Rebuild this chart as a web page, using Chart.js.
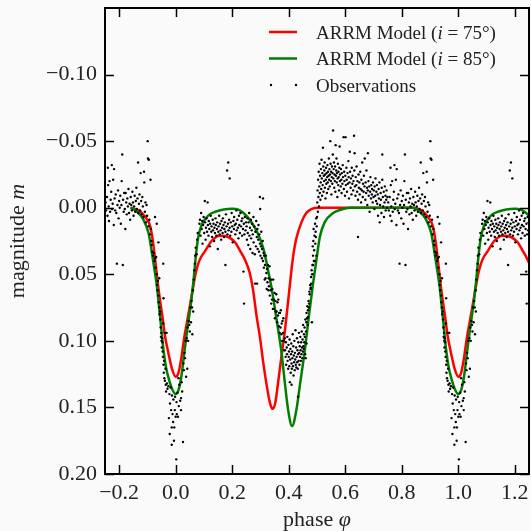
<!DOCTYPE html>
<html>
<head>
<meta charset="utf-8">
<script src="https://cdn.jsdelivr.net/npm/chart.js@4.4.1/dist/chart.umd.min.js"></script>
<style>
  html, body { margin: 0; padding: 0; background: #fafafa; }
  #wrap { width: 531px; height: 531px; }
</style>
</head>
<body>
<div id="wrap"><canvas id="lightCurve" width="531" height="531"></canvas></div>
<script>
// phase axis and magnitude axis (magnitude is drawn reversed)
const xTicks = [-0.2, 0.0, 0.2, 0.4, 0.6, 0.8, 1.0, 1.2];
const yTicks = [-0.10, -0.05, 0.00, 0.05, 0.10, 0.15, 0.20];

// model light curves, one period [0, 1], [phase, magnitude]
const model75 = [
    [0.000, 0.127], [0.010, 0.124], [0.020, 0.113], [0.030, 0.098], [0.040, 0.086],
    [0.050, 0.074], [0.060, 0.062], [0.070, 0.050], [0.080, 0.042], [0.090, 0.037],
    [0.103, 0.033], [0.127, 0.025], [0.156, 0.021], [0.186, 0.022], [0.210, 0.026],
    [0.227, 0.032], [0.245, 0.039], [0.262, 0.049], [0.274, 0.062], [0.286, 0.081],
    [0.298, 0.097], [0.309, 0.115], [0.321, 0.132], [0.333, 0.146], [0.342, 0.151],
    [0.352, 0.147], [0.362, 0.132], [0.374, 0.112], [0.386, 0.093], [0.398, 0.070],
    [0.409, 0.048], [0.418, 0.033], [0.427, 0.023], [0.445, 0.011], [0.462, 0.004],
    [0.480, 0.001], [0.504, 0.000], [0.840, 0.000], [0.869, 0.002], [0.893, 0.007],
    [0.910, 0.014], [0.920, 0.026], [0.929, 0.042], [0.937, 0.057], [0.945, 0.070],
    [0.954, 0.083], [0.962, 0.096], [0.975, 0.110], [0.987, 0.121], [1.000, 0.127]
];
const model85 = [
    [0.000, 0.140], [0.010, 0.137], [0.020, 0.127], [0.030, 0.110], [0.042, 0.090],
    [0.054, 0.072], [0.063, 0.055], [0.072, 0.035], [0.080, 0.022], [0.090, 0.014],
    [0.103, 0.009], [0.120, 0.005], [0.140, 0.003], [0.170, 0.0013], [0.200, 0.0008],
    [0.222, 0.0015], [0.240, 0.004], [0.262, 0.009], [0.280, 0.015], [0.298, 0.023],
    [0.312, 0.032], [0.325, 0.045], [0.339, 0.060], [0.357, 0.084], [0.374, 0.108],
    [0.386, 0.131], [0.398, 0.152], [0.412, 0.164], [0.427, 0.152], [0.441, 0.131],
    [0.457, 0.107], [0.471, 0.082], [0.486, 0.057], [0.498, 0.039], [0.510, 0.022],
    [0.527, 0.011], [0.557, 0.004], [0.592, 0.001], [0.620, 0.000], [0.840, 0.000],
    [0.863, 0.003], [0.886, 0.009], [0.904, 0.019], [0.916, 0.034], [0.924, 0.045],
    [0.933, 0.058], [0.945, 0.082], [0.957, 0.107], [0.966, 0.120], [0.975, 0.128],
    [0.987, 0.136], [1.000, 0.140]
];

// observations, one period [-0.25, 0.75), [phase, magnitude]
const obsBaseline = [
    [-0.248,-0.004],[-0.246,0.002],[-0.243,-0.008],[-0.241,0.006],[-0.240,-0.030],[-0.239,-0.017],[-0.237,-0.001],
    [-0.236,0.010],[-0.234,-0.020],[-0.232,0.003],[-0.230,-0.006],[-0.228,-0.012],[-0.226,-0.032],[-0.225,0.001],
    [-0.223,-0.003],[-0.221,-0.021],[-0.219,0.013],[-0.218,-0.029],[-0.216,-0.007],[-0.214,0.002],[-0.212,-0.010],
    [-0.210,0.004],[-0.208,0.042],[-0.206,-0.002],[-0.204,-0.013],[-0.202,0.008],[-0.200,-0.005],[-0.198,0.000],
    [-0.196,-0.009],[-0.194,0.012],[-0.192,-0.002],[-0.191,-0.020],[-0.189,-0.040],[-0.187,0.043],[-0.186,-0.006],
    [-0.184,0.003],[-0.182,-0.011],[-0.180,0.001],[-0.178,0.016],[-0.177,-0.011],[-0.175,-0.004],[-0.173,0.005],
    [-0.171,-0.007],[-0.169,-0.001],[-0.167,-0.014],[-0.165,0.004],[-0.163,-0.003],[-0.161,0.009],[-0.159,-0.008],
    [-0.157,-0.002],[-0.155,0.002],[-0.153,-0.012],[-0.151,-0.004],[-0.149,0.006],[-0.147,-0.001],[-0.145,-0.009],
    [-0.143,0.003],[-0.141,-0.005],[-0.139,-0.015],[-0.137,0.001],[-0.135,-0.007],[-0.133,-0.034],[-0.132,0.004],
    [-0.130,-0.003],[-0.128,-0.010],[-0.126,0.002],[-0.124,-0.026],[-0.122,-0.005],[-0.120,0.005],[-0.118,-0.008],
    [-0.116,-0.001],[-0.114,0.007],[-0.112,-0.027],[-0.111,-0.019],[-0.109,0.003],[-0.107,-0.004],[-0.105,0.011],
    [-0.103,-0.002],[-0.101,0.006],[-0.099,-0.050],[-0.098,-0.037],[-0.096,0.014],[-0.095,-0.036],[-0.093,0.009],
    [-0.091,0.020],[-0.089,-0.021],[-0.088,0.016],[-0.086,0.025]
];
const obsPrimary = [
    [-0.085,0.028],[-0.083,0.033],[-0.080,0.036],[-0.077,0.034],[-0.075,0.040],[-0.073,0.038],[-0.073,0.007],
    [-0.071,0.045],[-0.069,0.037],[-0.067,0.050],[-0.067,0.012],[-0.066,0.058],[-0.064,0.062],[-0.063,0.055],
    [-0.061,0.066],[-0.061,0.026],[-0.060,0.071],[-0.058,0.053],[-0.058,0.075],[-0.057,0.080],[-0.055,0.078],
    [-0.054,0.084],[-0.053,0.090],[-0.052,0.097],[-0.051,0.094],[-0.050,0.100],[-0.049,0.105],[-0.048,0.098],
    [-0.047,0.101],[-0.046,0.108],[-0.045,0.112],[-0.044,0.087],[-0.044,0.042],[-0.043,0.068],[-0.043,0.118],
    [-0.042,0.124],[-0.041,0.115],[-0.040,0.128],[-0.038,0.094],[-0.038,0.130],[-0.036,0.121],[-0.035,0.133],
    [-0.034,0.138],[-0.032,0.094],[-0.031,0.132],[-0.029,0.136],[-0.026,0.134],[-0.024,0.158],[-0.022,0.140],
    [-0.021,0.170],[-0.020,0.147],[-0.018,0.135],[-0.016,0.152],[-0.014,0.165],[-0.014,0.178],[-0.013,0.141],
    [-0.011,0.155],[-0.009,0.161],[-0.008,0.144],[-0.006,0.175],[-0.005,0.165],[-0.003,0.152],[-0.002,0.142],
    [0.000,0.157],[0.002,0.189],[0.003,0.146],[0.004,0.155],[0.006,0.139],[0.008,0.157],[0.010,0.128],
    [0.011,0.149],[0.013,0.133],[0.016,0.145],[0.019,0.152],[0.019,0.143],[0.021,0.131],[0.023,0.138],
    [0.026,0.176],[0.027,0.117],[0.029,0.122],[0.031,0.109],[0.033,0.113],[0.035,0.100],[0.037,0.127],
    [0.039,0.098],[0.041,0.121],[0.042,0.090],[0.044,0.100],[0.046,0.085],[0.048,0.088],[0.050,0.093],
    [0.052,0.075],[0.054,0.086],[0.056,0.070],[0.058,0.075],[0.059,0.095],[0.061,0.062],[0.062,0.078],
    [0.064,0.054],[0.066,0.047],[0.068,0.042],[0.069,0.036],[0.071,0.030],[0.074,0.035],[0.076,0.024],
    [0.078,0.019]
];
const obsPlateau = [
    [0.084,0.012],[0.086,0.009],[0.088,0.021],[0.090,0.004],[0.092,0.016],[0.094,0.010],[0.095,0.027],
    [0.097,0.013],[0.099,0.007],[0.101,0.019],[0.103,-0.005],[0.104,0.011],[0.106,0.024],[0.107,0.015],
    [0.109,0.008],[0.111,0.018],[0.113,-0.004],[0.114,0.013],[0.116,0.021],[0.117,0.010],[0.119,0.016],
    [0.121,0.029],[0.122,0.012],[0.124,0.006],[0.126,0.018],[0.127,0.014],[0.129,0.022],[0.131,0.009],
    [0.132,0.017],[0.134,0.012],[0.136,0.025],[0.137,0.015],[0.139,0.019],[0.141,0.008],[0.142,0.013],
    [0.144,0.021],[0.146,0.016],[0.147,0.011],[0.149,0.031],[0.151,0.018],[0.152,0.014],[0.154,0.006],
    [0.156,0.020],[0.157,0.012],[0.159,0.017],[0.161,0.024],[0.162,0.010],[0.164,0.015],[0.166,0.019],
    [0.167,0.008],[0.169,0.013],[0.171,0.022],[0.172,0.016],[0.174,0.011],[0.176,0.043],[0.176,0.018],
    [0.178,0.005],[0.180,0.014],[0.182,-0.028],[0.183,0.020],[0.185,0.012],[0.186,-0.034],[0.187,0.017],
    [0.189,0.009],[0.191,-0.022],[0.191,0.015],[0.193,0.021],[0.195,0.011],[0.197,0.018],[0.198,0.004],
    [0.200,0.014],[0.202,0.026],[0.204,0.010],[0.206,0.016],[0.207,0.007],[0.209,0.013],[0.211,0.020],
    [0.213,0.012],[0.215,0.002],[0.216,0.017],[0.218,0.009],[0.220,0.015],[0.222,0.023],[0.224,0.006],
    [0.225,0.013],[0.227,0.019],[0.229,0.004],[0.231,0.014],[0.233,0.010],[0.235,0.021],[0.236,0.008],
    [0.238,0.016],[0.240,0.048],[0.241,0.012],[0.242,0.072],[0.243,0.020],[0.245,0.007],[0.247,0.017],
    [0.249,0.011]
];
const obsSecondary = [
    [0.251,0.014],[0.252,0.024],[0.254,0.008],[0.255,0.019],[0.257,0.028],[0.258,0.011],[0.260,0.004],
    [0.261,0.021],[0.263,0.015],[0.264,0.031],[0.266,0.009],[0.267,0.023],[0.269,0.017],[0.270,0.012],
    [0.272,0.034],[0.273,0.020],[0.275,0.007],[0.276,0.026],[0.278,0.014],[0.280,0.035],[0.281,0.057],
    [0.282,0.018],[0.284,0.029],[0.285,0.010],[0.287,0.022],[0.288,0.057],[0.289,0.016],[0.290,0.031],
    [0.292,0.024],[0.293,0.013],[0.295,0.033],[0.296,0.020],[0.298,-0.008],[0.298,0.027],[0.299,0.001],
    [0.300,0.036],[0.302,0.029],[0.303,0.018],[0.305,0.038],[0.306,0.031],[0.308,0.025],[0.309,-0.007],
    [0.309,0.040],[0.311,0.034],
    [0.312,0.045],[0.313,0.036],[0.315,0.054],[0.316,0.043],[0.318,0.053],[0.319,0.036],[0.321,0.049],
    [0.322,0.061],[0.323,0.046],[0.325,0.056],[0.326,0.043],[0.328,0.062],[0.329,0.053],[0.330,0.059],
    [0.332,0.044],[0.333,0.066],[0.335,0.054],[0.336,0.062],[0.338,0.072],[0.339,0.054],[0.341,0.069],
    [0.342,0.061],[0.344,0.076],[0.345,0.054],[0.347,0.069],[0.348,0.076],[0.350,0.064],[0.351,0.083],
    [0.353,0.070],[0.354,0.078],[0.356,0.065],[0.357,0.078],[0.359,0.086],[0.360,0.071],[0.362,0.081],
    [0.363,0.069],[0.365,0.089],[0.366,0.079],[0.368,0.094],[0.369,0.079],[0.371,0.090],[0.372,0.077],
    [0.374,0.095],[0.375,0.087],[0.377,0.100],[0.378,0.085],[0.380,0.094],[0.381,0.083],[0.383,0.100],
    [0.384,0.107],
    [0.386,0.098],[0.387,0.107],[0.389,0.112],[0.390,0.101],[0.391,0.118],[0.393,0.105],[0.394,0.110],
    [0.395,0.097],[0.396,0.115],[0.398,0.121],[0.399,0.103],[0.400,0.112],[0.401,0.108],[0.402,0.119],
    [0.403,0.099],[0.404,0.131],[0.405,0.114],[0.406,0.106],[0.407,0.124],[0.408,0.110],[0.409,0.102],
    [0.410,0.133],[0.410,0.117],[0.411,0.121],[0.412,0.108],[0.413,0.113],[0.414,0.095],[0.415,0.119],
    [0.416,0.104],[0.417,0.126],[0.418,0.111],[0.419,0.116],[0.420,0.100],[0.421,0.122],[0.422,0.109],
    [0.423,0.114],[0.424,0.092],[0.425,0.118],[0.426,0.105],[0.427,0.120],[0.428,0.112],[0.429,0.098],
    [0.430,0.116],[0.431,0.107],[0.432,0.121],[0.433,0.142],[0.433,0.110],[0.434,0.101],[0.435,0.115],
    [0.436,0.094],[0.437,0.109],[0.438,0.118],[0.439,0.104],[0.440,0.112],[0.441,0.097],[0.442,0.107],
    [0.443,0.115],[0.444,0.101],[0.445,0.110],[0.446,0.093],[0.447,0.105],
    [0.448,0.113],[0.449,0.099],[0.450,0.108],[0.451,0.088],[0.452,0.104],[0.453,0.106],[0.454,0.095],
    [0.455,0.101],[0.456,0.090],[0.457,0.097],[0.458,0.110],[0.459,0.084],[0.460,0.113],[0.461,0.093],
    [0.462,0.086],[0.463,0.102],[0.463,0.079],[0.465,0.083],[0.466,0.074],[0.467,0.088],[0.468,0.082],
    [0.468,0.077],[0.470,0.070],[0.471,0.075],[0.472,0.072],[0.473,0.063],[0.474,0.065],[0.476,0.058],
    [0.477,0.061],[0.478,0.060],[0.479,0.052],[0.480,0.057],[0.481,0.047],[0.482,0.086],[0.483,0.050],
    [0.484,0.043],[0.485,0.029],[0.486,0.043],[0.486,0.036],[0.487,0.025],[0.488,0.016],[0.489,0.040],
    [0.490,0.032],[0.491,0.021],[0.492,0.040],[0.493,0.012],[0.494,0.027],[0.495,0.018],[0.496,0.022],
    [0.497,0.008],[0.498,0.036],[0.499,0.014],[0.500,0.007]
];
const obsHump = [
    [0.501,-0.004],[0.502,-0.013],[0.503,0.003],[0.504,-0.021],[0.505,-0.008],[0.506,-0.027],[0.507,-0.001],
    [0.508,-0.016],[0.509,-0.033],[0.510,-0.011],[0.511,-0.024],[0.512,-0.006],[0.513,-0.019],[0.514,-0.029],
    [0.515,-0.014],[0.516,-0.036],[0.517,-0.022],[0.518,-0.009],[0.519,-0.026],[0.520,-0.017],[0.521,-0.045],
    [0.522,-0.031],[0.523,-0.012],[0.524,-0.024],[0.525,-0.020],[0.526,-0.028],[0.527,-0.034],[0.528,-0.015],
    [0.529,-0.025],[0.530,-0.007],[0.531,-0.021],[0.532,-0.030],[0.533,-0.018],[0.534,-0.026],[0.535,-0.011],
    [0.536,-0.023],[0.537,-0.032],[0.538,-0.019],[0.539,-0.027],[0.540,-0.014],[0.541,-0.024],[0.542,-0.037],
    [0.543,-0.021],[0.544,-0.029],[0.545,-0.016],[0.546,-0.025],[0.547,-0.050],[0.548,-0.033],[0.549,-0.020],
    [0.550,-0.027],[0.551,-0.010],[0.552,-0.023],[0.553,-0.031],[0.554,-0.018],[0.555,-0.026],[0.556,-0.040],
    [0.557,-0.058],[0.558,-0.022],[0.559,-0.029],[0.560,-0.034],[0.561,-0.015],[0.562,-0.025],[0.563,-0.020],
    [0.564,-0.031],[0.565,-0.012],[0.566,-0.047],[0.567,-0.024],[0.568,-0.028],[0.569,-0.037],[0.570,-0.019],
    [0.571,-0.026],[0.572,-0.008],[0.573,-0.022],[0.574,-0.033],[0.575,-0.017],[0.576,-0.027],[0.577,-0.023],
    [0.578,-0.013],[0.579,-0.030],[0.580,-0.046],[0.581,-0.020],[0.582,-0.025],[0.584,-0.016],[0.585,-0.029],
    [0.586,-0.021],[0.587,-0.011],[0.588,-0.026],[0.590,-0.018],[0.591,-0.032],[0.592,-0.023],[0.594,-0.053],
    [0.595,-0.014],[0.596,-0.027],[0.597,-0.020],[0.599,-0.009],[0.600,-0.024],[0.601,-0.053],[0.602,-0.017],
    [0.604,-0.030],[0.605,-0.021],[0.606,-0.012],[0.608,-0.026],[0.609,-0.018],[0.611,-0.035],[0.612,-0.023],
    [0.613,-0.007],[0.615,-0.019],[0.616,-0.042],[0.617,-0.027],[0.619,-0.015],[0.620,-0.022],[0.622,-0.010],
    [0.623,-0.030],[0.625,-0.018],[0.626,-0.024],[0.628,-0.013],[0.629,-0.020],[0.631,-0.054],[0.632,-0.028],
    [0.633,-0.041],[0.634,-0.016],[0.636,-0.009],[0.637,-0.023],[0.639,-0.017],[0.640,-0.031],[0.642,-0.012],
    [0.643,-0.020],[0.645,0.022],[0.645,-0.006],[0.647,-0.025],[0.648,-0.015],[0.650,-0.019],[0.651,-0.010],
    [0.653,-0.027],[0.654,-0.014],[0.656,-0.004],[0.657,-0.021],[0.659,-0.013],[0.660,-0.034],[0.662,-0.008],
    [0.663,-0.018],[0.665,-0.012],[0.666,-0.024],[0.668,-0.016],[0.669,-0.037],[0.671,-0.006],[0.672,-0.019],
    [0.674,-0.011],[0.675,-0.028],[0.677,-0.015],[0.678,-0.002],[0.680,-0.041],[0.680,-0.013],[0.682,-0.020],
    [0.683,-0.009],[0.685,-0.016],[0.686,0.003],[0.688,-0.012],[0.689,-0.023],[0.691,-0.007],[0.692,-0.017],
    [0.694,-0.010],[0.695,-0.014],[0.697,-0.004],[0.698,-0.019],[0.700,-0.008],[0.701,-0.013],[0.703,0.001],
    [0.704,-0.016],[0.706,-0.009],[0.707,-0.022],[0.709,-0.005],[0.710,-0.012],[0.712,-0.017],[0.713,-0.003],
    [0.715,-0.010],[0.716,0.006],[0.718,-0.014],[0.719,-0.007],[0.721,-0.019],[0.722,0.011],[0.723,-0.002],
    [0.725,-0.011],[0.726,-0.006],[0.728,0.004],[0.729,-0.015],[0.731,-0.040],[0.731,-0.021],[0.733,-0.008],
    [0.734,-0.001],[0.736,-0.012],[0.737,0.007],[0.739,-0.004],[0.740,-0.016],[0.742,-0.009],[0.743,0.002],
    [0.745,-0.006],[0.746,-0.013],[0.748,0.000],[0.749,-0.008]
];

const fontFamily = '"Liberation Serif", "Times New Roman", serif';
const textColor = '#222';

// repeat one period of a model curve so it spans the plotted phase range
function foldLine(points) {
    let out = [];
    [-1, 0, 1].forEach(k => {
        points.forEach(p => {
            let x = p[0] + k;
            if (x >= -0.3 && x <= 1.3) out.push({x: x, y: p[1]});
        });
    });
    out.sort((a, b) => a.x - b.x);
    return out.filter((p, i) => i === 0 || Math.abs(p.x - out[i - 1].x) > 1e-9);
}

// observations below phase 0.25 show up a second time one period later
function foldObs(points) {
    let out = [];
    points.forEach(p => {
        out.push({x: p[0], y: p[1]});
        if (p[0] + 1 <= 1.25) out.push({x: p[0] + 1, y: p[1]});
    });
    return out;
}

function fmt(v, digits) {
    let s = Math.abs(v).toFixed(digits);
    return (v < -1e-9 ? '\u2212' : '') + s;
}

const allObs = [].concat(obsBaseline, obsPrimary, obsPlateau, obsSecondary, obsHump);

// draws several text pieces in a row, some in italic
function drawParts(ctx, parts, x, y, size) {
    parts.forEach(part => {
        ctx.font = (part.italic ? 'italic ' : '') + size + 'px ' + fontFamily;
        ctx.fillText(part.text, x, y);
        x += ctx.measureText(part.text).width;
    });
}
function partsWidth(ctx, parts, size) {
    let w = 0;
    parts.forEach(part => {
        ctx.font = (part.italic ? 'italic ' : '') + size + 'px ' + fontFamily;
        w += ctx.measureText(part.text).width;
    });
    return w;
}

const framePlugin = {
    id: 'frame',
    beforeDraw(chart) {
        let ctx = chart.ctx;
        ctx.save();
        ctx.fillStyle = '#fafafa';
        ctx.fillRect(0, 0, chart.width, chart.height);
        ctx.restore();
    },
    afterDraw(chart) {
        let ctx = chart.ctx;
        let a = chart.chartArea;
        let xs = chart.scales.x, ys = chart.scales.y;
        ctx.save();

        // inward ticks on all four sides
        ctx.strokeStyle = '#000';
        ctx.lineWidth = 1.5;
        ctx.beginPath();
        xTicks.forEach(v => {
            let px = Math.round(xs.getPixelForValue(v)) + 0.5;
            ctx.moveTo(px, a.bottom); ctx.lineTo(px, a.bottom - 9);
            ctx.moveTo(px, a.top); ctx.lineTo(px, a.top + 9);
        });
        yTicks.forEach(v => {
            let py = Math.round(ys.getPixelForValue(v)) + 0.5;
            ctx.moveTo(a.left, py); ctx.lineTo(a.left + 9, py);
            ctx.moveTo(a.right, py); ctx.lineTo(a.right - 9, py);
        });
        ctx.stroke();

        ctx.lineWidth = 2;
        ctx.strokeRect(a.left, a.top, a.right - a.left, a.bottom - a.top);

        // axis titles
        ctx.fillStyle = textColor;
        ctx.textBaseline = 'alphabetic';
        ctx.textAlign = 'left';
        let xTitle = [{text: 'phase '}, {text: '\u03c6', italic: true}];
        let w = partsWidth(ctx, xTitle, 22);
        drawParts(ctx, xTitle, (a.left + a.right) / 2 - w / 2, 526, 22);

        let yTitle = [{text: 'magnitude '}, {text: 'm', italic: true}];
        ctx.save();
        ctx.translate(24, (a.top + a.bottom) / 2);
        ctx.rotate(-Math.PI / 2);
        w = partsWidth(ctx, yTitle, 22);
        drawParts(ctx, yTitle, -w / 2, 0, 22);
        ctx.restore();

        // legend, no frame
        let rows = [
            {color: '#ff0000', parts: [{text: 'ARRM Model ('}, {text: 'i', italic: true}, {text: ' = 75\u00b0)'}]},
            {color: '#008000', parts: [{text: 'ARRM Model ('}, {text: 'i', italic: true}, {text: ' = 85\u00b0)'}]},
            {dots: true, parts: [{text: 'Observations'}]}
        ];
        rows.forEach((row, i) => {
            let cy = 32 + i * 26.5;
            if (row.dots) {
                ctx.fillStyle = '#000';
                [271, 296].forEach(dx => {
                    ctx.beginPath();
                    ctx.arc(dx, cy, 1.2, 0, Math.PI * 2);
                    ctx.fill();
                });
            } else {
                ctx.strokeStyle = row.color;
                ctx.lineWidth = 2.5;
                ctx.beginPath();
                ctx.moveTo(269, cy);
                ctx.lineTo(297, cy);
                ctx.stroke();
            }
            ctx.fillStyle = textColor;
            drawParts(ctx, row.parts, 316, cy + 6.5, 19);
        });
        ctx.restore();
    }
};

let ctx = document.getElementById('lightCurve').getContext('2d');
new Chart(ctx, {
    type: 'scatter',
    data: {
        datasets: [
            {
                label: 'ARRM Model (i = 75\u00b0)',
                data: foldLine(model75),
                showLine: true,
                borderColor: '#ff0000',
                borderWidth: 2.5,
                pointRadius: 0,
                cubicInterpolationMode: 'monotone',
                order: 3
            },
            {
                label: 'ARRM Model (i = 85\u00b0)',
                data: foldLine(model85),
                showLine: true,
                borderColor: '#008000',
                borderWidth: 2.5,
                pointRadius: 0,
                cubicInterpolationMode: 'monotone',
                order: 2
            },
            {
                label: 'Observations',
                data: foldObs(allObs),
                pointRadius: 1.2,
                borderWidth: 0,
                backgroundColor: '#000',
                order: 1
            }
        ]
    },
    options: {
        responsive: false,
        animation: false,
        devicePixelRatio: 1,
        layout: {
            autoPadding: false,
            padding: {top: 8, right: 2, left: 0, bottom: 0}
        },
        plugins: {
            legend: {display: false},
            tooltip: {enabled: false}
        },
        scales: {
            x: {
                type: 'linear',
                min: -0.25,
                max: 1.25,
                grid: {display: false, drawTicks: false},
                border: {display: false},
                afterFit: s => { s.height = 57; s.paddingLeft = 0; s.paddingRight = 0; },
                afterBuildTicks: s => { s.ticks = xTicks.map(v => ({value: v})); },
                ticks: {
                    padding: 6,
                    color: textColor,
                    font: {family: fontFamily, size: 22},
                    maxRotation: 0,
                    autoSkip: false,
                    callback: v => fmt(v, 1)
                }
            },
            y: {
                type: 'linear',
                reverse: true,
                min: -0.15,
                max: 0.20,
                grid: {display: false, drawTicks: false},
                border: {display: false},
                afterFit: s => { s.width = 105; s.paddingTop = 0; s.paddingBottom = 0; },
                afterBuildTicks: s => { s.ticks = yTicks.map(v => ({value: v})); },
                ticks: {
                    padding: 8,
                    color: textColor,
                    font: {family: fontFamily, size: 22},
                    autoSkip: false,
                    callback: v => fmt(v, 2)
                }
            }
        }
    },
    plugins: [framePlugin]
});
</script>
</body>
</html>
